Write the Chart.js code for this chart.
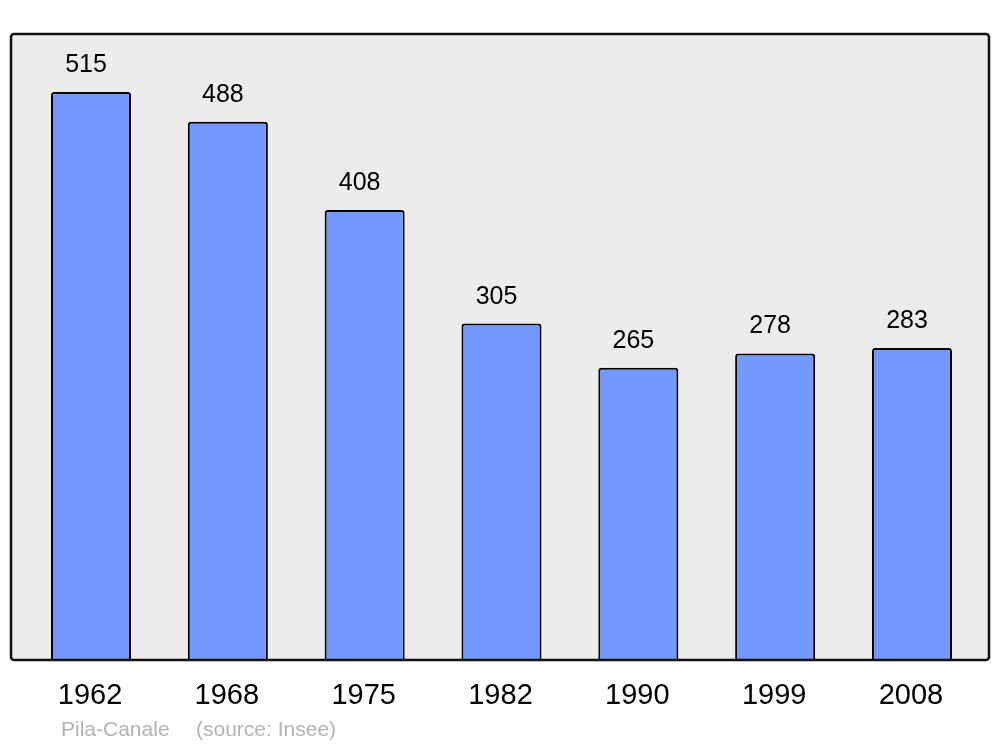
<!DOCTYPE html>
<html>
<head>
<meta charset="utf-8">
<script src="https://cdn.jsdelivr.net/npm/chart.js@4/dist/chart.umd.min.js"></script>
<style>
  html, body { margin: 0; padding: 0; background: #fff; }
  #wrap { width: 1000px; height: 747px; }
</style>
</head>
<body>
<div id="wrap"><canvas id="chart"></canvas></div>
<script>
// population data
const years = ['1962', '1968', '1975', '1982', '1990', '1999', '2008'];
const population = [515, 488, 408, 305, 265, 278, 283];
const commune = 'Pila-Canale';
const source = '(source: Insee)';

const font = '"Liberation Sans", Arial, sans-serif';

// frame behind the bars + labels
const decor = {
  id: 'decor',
  beforeDatasetsDraw(chart) {
    const { ctx, chartArea } = chart;
    const left = chartArea.left - 11.6, right = chartArea.right + 8.6;
    const top = chartArea.top, bottom = chartArea.bottom;
    ctx.save();
    ctx.beginPath();
    ctx.roundRect(left, top, right - left, bottom - top, 3);
    ctx.fillStyle = '#ececec';
    ctx.fill();
    ctx.restore();
  },
  afterDatasetsDraw(chart) {
    const { ctx, chartArea, scales } = chart;
    const left = chartArea.left - 11.6, right = chartArea.right + 8.6;
    const top = chartArea.top, bottom = chartArea.bottom;
    ctx.save();
    ctx.beginPath();
    ctx.roundRect(left, top, right - left, bottom - top, 3);
    ctx.lineWidth = 2.5;
    ctx.strokeStyle = '#111';
    ctx.stroke();

    ctx.fillStyle = '#000';
    ctx.textAlign = 'center';
    ctx.textBaseline = 'middle';
    const meta = chart.getDatasetMeta(0);
    ctx.font = '25px ' + font;
    meta.data.forEach((bar, i) => {
      ctx.fillText(String(population[i]), bar.x - 5, bar.y - 27);
    });
    ctx.font = '29px ' + font;
    years.forEach((y, i) => {
      ctx.fillText(y, scales.x.getPixelForTick(i) - 1, bottom + 36);
    });
    ctx.font = '21px ' + font;
    ctx.fillStyle = '#b3b3b3';
    ctx.textAlign = 'left';
    ctx.fillText(commune, left + 50, bottom + 70);
    ctx.fillText(source, left + 185, bottom + 70);
    ctx.restore();
  }
};

new Chart(document.getElementById('chart'), {
  type: 'bar',
  data: {
    labels: years,
    datasets: [{
      data: population,
      backgroundColor: '#7399ff',
      borderColor: '#000',
      borderWidth: 2,
      borderRadius: 3,
      borderSkipped: 'bottom',
      barPercentage: 0.585,
      categoryPercentage: 1
    }]
  },
  options: {
    responsive: true,
    maintainAspectRatio: false,
    animation: false,
    layout: { padding: { left: 22.6, right: 19.6, top: 34, bottom: 87 } },
    plugins: { legend: { display: false }, tooltip: { enabled: false } },
    scales: {
      x: { display: false },
      y: { display: false, min: 0, max: 567.6 }
    }
  },
  plugins: [decor]
});
</script>
</body>
</html>
